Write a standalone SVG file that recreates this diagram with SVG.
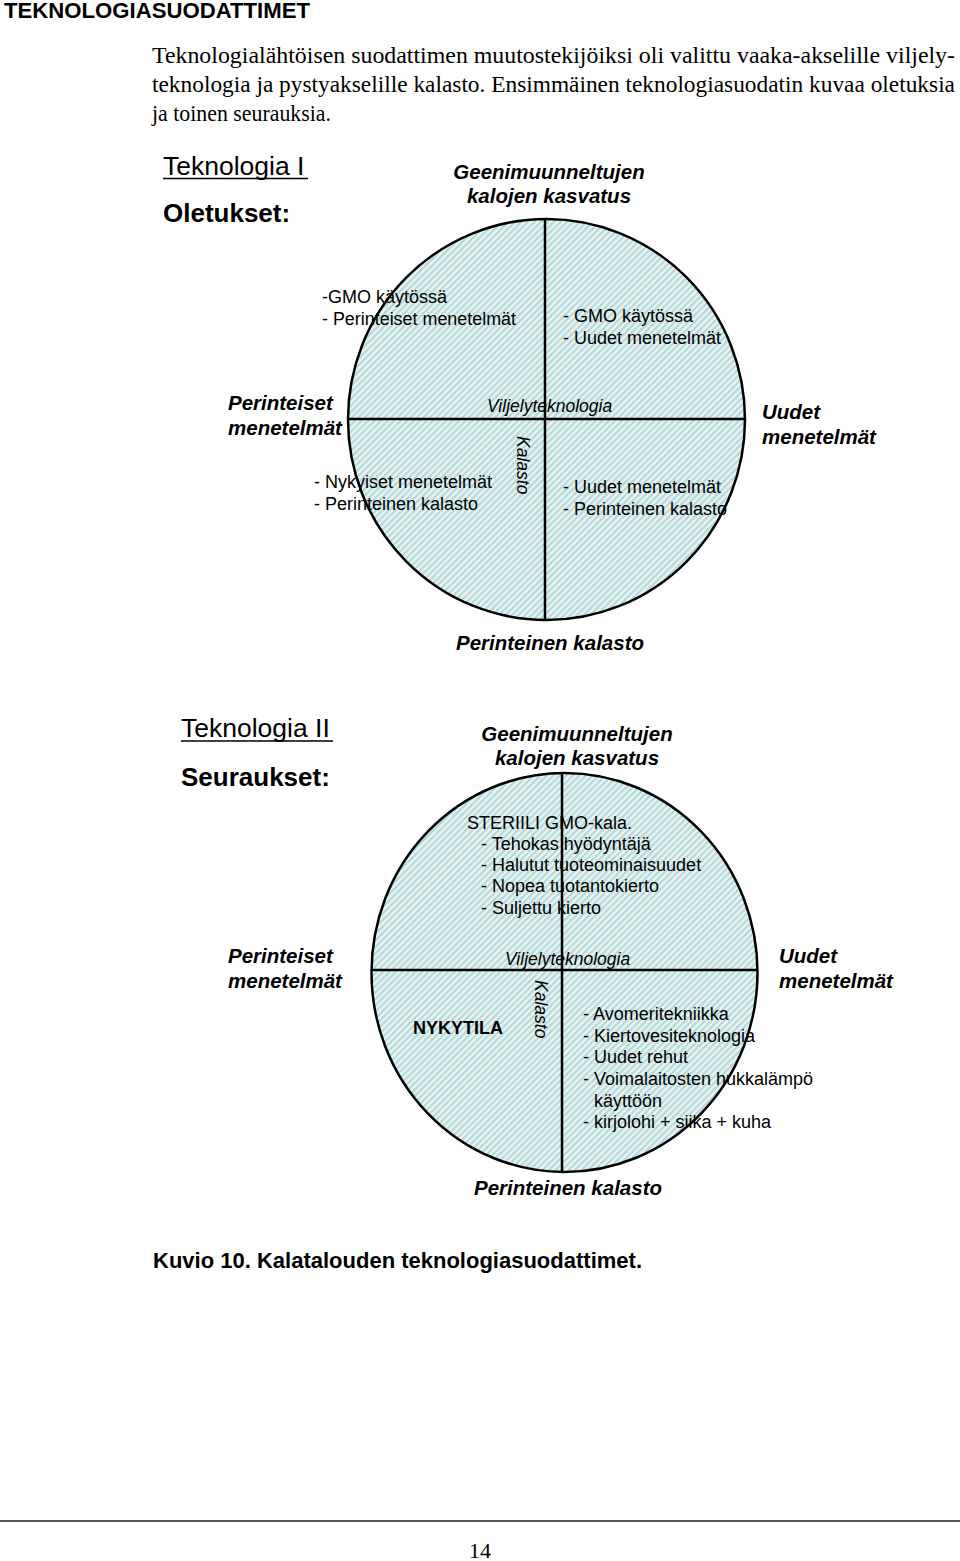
<svg xmlns="http://www.w3.org/2000/svg" width="960" height="1561" viewBox="0 0 960 1561">
<defs>
<pattern id="hatch" patternUnits="userSpaceOnUse" width="4.6" height="4.6" patternTransform="rotate(45)">
<rect width="4.6" height="4.6" fill="#eaf5f5"/>
<line x1="1.2" y1="0" x2="1.2" y2="4.6" stroke="#b4d7d7" stroke-width="2.2"/>
</pattern>
<style>
.s{font-family:"Liberation Sans",Arial,sans-serif;fill:#000}
.t{font-family:"Liberation Serif","Times New Roman",serif;fill:#000}
.q{font-size:18px}
.bi{font-weight:bold;font-style:italic;font-size:20.5px}
.ax{font-style:italic;font-size:17.5px}
.shape{fill:url(#hatch);stroke:#000;stroke-width:2.5}
.axis{stroke:#000;stroke-width:2.5;fill:none}
</style>
</defs>
<rect width="960" height="1561" fill="#fff"/>
<text class="s" x="4" y="18" font-size="22" font-weight="bold" textLength="306" lengthAdjust="spacingAndGlyphs">TEKNOLOGIASUODATTIMET</text>
<g class="t" font-size="22.5">
<text x="152" y="63" textLength="803" lengthAdjust="spacingAndGlyphs">Teknologialähtöisen suodattimen muutostekijöiksi oli valittu vaaka-akselille viljely-</text>
<text x="152" y="92" textLength="803" lengthAdjust="spacingAndGlyphs">teknologia ja pystyakselille kalasto. Ensimmäinen teknologiasuodatin kuvaa oletuksia</text>
<text x="152" y="121" textLength="179" lengthAdjust="spacingAndGlyphs">ja toinen seurauksia.</text>
</g>
<g id="filter1">
<g id="circle1">
<ellipse class="shape" cx="546.5" cy="419.5" rx="198.5" ry="200.5"/>
</g>
<g id="axes1">
<line class="axis" x1="545" y1="219" x2="545" y2="620"/>
<line class="axis" x1="348" y1="419" x2="745" y2="419"/>
</g>
<g id="labels1">
<text class="s" x="163" y="175" font-size="26.5">Teknologia I</text>
<line x1="163" y1="178.5" x2="308" y2="178.5" stroke="#000" stroke-width="1.6"/>
<text class="s" x="163" y="222" font-size="26" font-weight="bold">Oletukset:</text>
<text class="s bi" x="549" y="179" text-anchor="middle">Geenimuunneltujen</text>
<text class="s bi" x="549" y="203" text-anchor="middle">kalojen kasvatus</text>
<text class="s q" x="322" y="303">-GMO käytössä</text>
<text class="s q" x="322" y="325" textLength="194" lengthAdjust="spacingAndGlyphs">- Perinteiset menetelmät</text>
<text class="s q" x="563" y="322">- GMO käytössä</text>
<text class="s q" x="563" y="344">- Uudet menetelmät</text>
<text class="s bi" x="228" y="410">Perinteiset</text>
<text class="s bi" x="228" y="435">menetelmät</text>
<text class="s ax" x="487" y="412">Viljelyteknologia</text>
<text class="s bi" x="762" y="419">Uudet</text>
<text class="s bi" x="762" y="444">menetelmät</text>
<text class="s ax" transform="translate(517,436) rotate(90)">Kalasto</text>
<text class="s q" x="314" y="488">- Nykyiset menetelmät</text>
<text class="s q" x="314" y="510">- Perinteinen kalasto</text>
<text class="s q" x="563" y="493">- Uudet menetelmät</text>
<text class="s q" x="563" y="515">- Perinteinen kalasto</text>
<text class="s bi" x="550" y="650" text-anchor="middle">Perinteinen kalasto</text>
</g>
</g>
<g id="filter2">
<g id="circle2">
<ellipse class="shape" cx="564.5" cy="972.5" rx="193" ry="199.5"/>
</g>
<g id="axes2">
<line class="axis" x1="562" y1="773" x2="562" y2="1172"/>
<line class="axis" x1="372" y1="970" x2="757" y2="970"/>
</g>
<g id="labels2">
<text class="s" x="181" y="737" font-size="26.5">Teknologia II</text>
<line x1="181" y1="741" x2="333" y2="741" stroke="#000" stroke-width="1.6"/>
<text class="s" x="181" y="786" font-size="26" font-weight="bold">Seuraukset:</text>
<text class="s bi" x="577" y="741" text-anchor="middle">Geenimuunneltujen</text>
<text class="s bi" x="577" y="765" text-anchor="middle">kalojen kasvatus</text>
<text class="s q" x="467" y="829">STERIILI GMO-kala.</text>
<text class="s q" x="481" y="850">- Tehokas hyödyntäjä</text>
<text class="s q" x="481" y="871">- Halutut tuoteominaisuudet</text>
<text class="s q" x="481" y="892">- Nopea tuotantokierto</text>
<text class="s q" x="481" y="914">- Suljettu kierto</text>
<text class="s bi" x="228" y="963">Perinteiset</text>
<text class="s bi" x="228" y="988">menetelmät</text>
<text class="s ax" x="505" y="965">Viljelyteknologia</text>
<text class="s bi" x="779" y="963">Uudet</text>
<text class="s bi" x="779" y="988">menetelmät</text>
<text class="s ax" transform="translate(535,980) rotate(90)">Kalasto</text>
<text class="s" x="413" y="1034" font-size="18" font-weight="bold">NYKYTILA</text>
<text class="s q" x="583" y="1020">- Avomeritekniikka</text>
<text class="s q" x="583" y="1042">- Kiertovesiteknologia</text>
<text class="s q" x="583" y="1063">- Uudet rehut</text>
<text class="s q" x="583" y="1085">- Voimalaitosten hukkalämpö</text>
<text class="s q" x="594" y="1107">käyttöön</text>
<text class="s q" x="583" y="1128">- kirjolohi + siika + kuha</text>
<text class="s bi" x="568" y="1195" text-anchor="middle">Perinteinen kalasto</text>
</g>
</g>
<text class="s" x="153" y="1268" font-size="21.5" font-weight="bold" textLength="489" lengthAdjust="spacingAndGlyphs">Kuvio 10. Kalatalouden teknologiasuodattimet.</text>
<line x1="0" y1="1521" x2="960" y2="1521" stroke="#555" stroke-width="2"/>
<text class="t" x="480" y="1558" font-size="22" text-anchor="middle">14</text>
</svg>
